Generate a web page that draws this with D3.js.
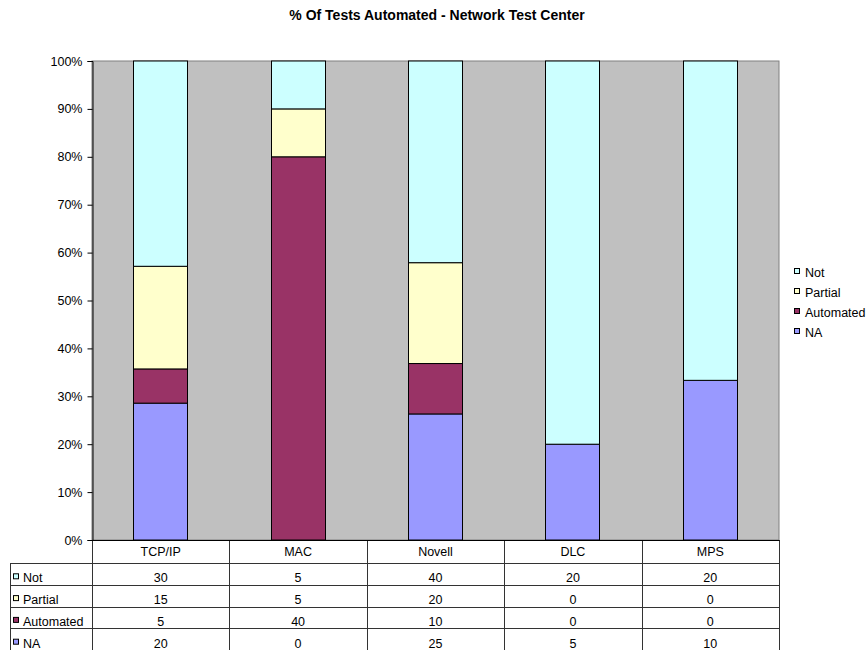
<!DOCTYPE html>
<html><head><meta charset="utf-8">
<script src="https://cdn.jsdelivr.net/npm/d3@7"></script>
<style>body{margin:0;background:#fff;font-family:"Liberation Sans",Arial,sans-serif;}</style>
</head><body>
<svg id="c" width="866" height="650"></svg>
<script>
const categories = ["TCP/IP", "MAC", "Novell", "DLC", "MPS"];
const seriesNames = ["Not", "Partial", "Automated", "NA"];
const notVals = [30, 5, 40, 20, 20];
const partialVals = [15, 5, 20, 0, 0];
const automatedVals = [5, 40, 10, 0, 0];
const naVals = [20, 0, 25, 5, 10];
const yTicks = [0, 0.1, 0.2, 0.3, 0.4, 0.5, 0.6, 0.7, 0.8, 0.9, 1.0];
const colors = {Not: "#CCFFFF", Partial: "#FFFFCC", Automated: "#993366", NA: "#9999FF"};

const valuesBySeries = {Not: notVals, Partial: partialVals, Automated: automatedVals, NA: naVals};
const rows = categories.map((c, i) => {
  const r = {cat: c};
  seriesNames.forEach(s => r[s] = valuesBySeries[s][i]);
  return r;
});

const FS = 12.5;
const svg = d3.select("#c");
const L = 92, R = 779, T = 61, B = 540;
const x = d3.scaleBand().domain(categories).range([L, R]).paddingInner(0.6).paddingOuter(0.3);
const xCol = d3.scaleBand().domain(categories).range([L, R]);
const y = d3.scaleLinear().domain([0, 1]).range([B, T]);

// title
svg.append("text").attr("x", 437).attr("y", 19.5).attr("text-anchor", "middle")
  .attr("font-size", 14).attr("font-weight", "bold").text("% Of Tests Automated - Network Test Center");

// plot area
svg.append("rect").attr("x", L).attr("y", T).attr("width", R - L).attr("height", B - T)
  .attr("fill", "#C0C0C0").attr("stroke", "#808080").attr("stroke-width", 1);

// stack (bottom to top: NA, Automated, Partial, Not)
const stackOrder = ["NA", "Automated", "Partial", "Not"];
const stack = d3.stack().keys(stackOrder).offset(d3.stackOffsetExpand);
const layers = stack(rows);
svg.append("g").selectAll("g").data(layers).join("g")
  .attr("fill", d => colors[d.key])
  .selectAll("rect").data(d => d.filter(p => p[1] - p[0] > 0)).join("rect")
  .attr("x", d => Math.round(x(d.data.cat)) + 0.5)
  .attr("width", Math.round(x.bandwidth()) - 1)
  .attr("y", d => y(d[1]))
  .attr("height", d => y(d[0]) - y(d[1]))
  .attr("stroke", "#000").attr("stroke-width", 1);

// y axis
const yAxis = d3.axisLeft(y).tickValues(yTicks).tickFormat(d3.format(".0%")).tickSize(5).tickPadding(5);
const ga = svg.append("g").attr("transform", `translate(${L + 0.5},0)`).call(yAxis);
ga.select(".domain").attr("stroke", "#000");
ga.selectAll(".tick line").attr("stroke", "#000");
ga.selectAll("text").attr("font-size", FS).attr("font-family", "Liberation Sans, Arial, sans-serif").attr("fill", "#000");

// legend
const lg = svg.append("g");
seriesNames.forEach((s, i) => {
  const ly = 277 + i * 20;
  lg.append("rect").attr("x", 794.5).attr("y", ly - 8.5).attr("width", 5).attr("height", 5)
    .attr("fill", colors[s]).attr("stroke", "#000").attr("stroke-width", 1);
  lg.append("text").attr("x", 805).attr("y", ly).attr("font-size", FS).text(s);
});

// data table
const headerTop = B, headerBot = 563;
const rowH = 21.8;
const tableLeft = 10;
const tg = svg.append("g");
const lineColor = "#333";
categories.forEach(c => {
  const cx = xCol(c) + xCol.bandwidth() / 2;
  tg.append("text").attr("x", cx).attr("y", 555.5).attr("text-anchor", "middle")
    .attr("font-size", FS).text(c);
});
seriesNames.forEach((s, i) => {
  const top = headerBot + i * rowH;
  const base = top + rowH - 2.5;
  tg.append("rect").attr("x", 13.5).attr("y", base - 8.5).attr("width", 5).attr("height", 5)
    .attr("fill", colors[s]).attr("stroke", "#000").attr("stroke-width", 1);
  tg.append("text").attr("x", 23).attr("y", base).attr("font-size", FS).text(s);
  categories.forEach((c, j) => {
    tg.append("text").attr("x", xCol(c) + xCol.bandwidth() / 2).attr("y", base)
      .attr("text-anchor", "middle").attr("font-size", FS).text(valuesBySeries[s][j]);
  });
});
const tableBottom = headerBot + 4 * rowH;
xCol.domain().forEach(c => {
  const vx = Math.round(xCol(c)) + 0.5;
  tg.append("line").attr("x1", vx).attr("x2", vx).attr("y1", headerTop).attr("y2", tableBottom).attr("stroke", lineColor);
});
tg.append("line").attr("x1", R + 0.5).attr("x2", R + 0.5).attr("y1", headerTop).attr("y2", tableBottom).attr("stroke", lineColor);
tg.append("line").attr("x1", tableLeft + 0.5).attr("x2", tableLeft + 0.5).attr("y1", headerBot).attr("y2", tableBottom).attr("stroke", lineColor);
for (let i = 0; i <= 4; i++) {
  const hy = Math.round(headerBot + i * rowH) + 0.5;
  tg.append("line").attr("x1", tableLeft).attr("x2", R + 0.5).attr("y1", hy).attr("y2", hy).attr("stroke", lineColor);
}
tg.append("line").attr("x1", L).attr("x2", R + 0.5).attr("y1", B + 0.5).attr("y2", B + 0.5).attr("stroke", "#000");
</script>
</body></html>
